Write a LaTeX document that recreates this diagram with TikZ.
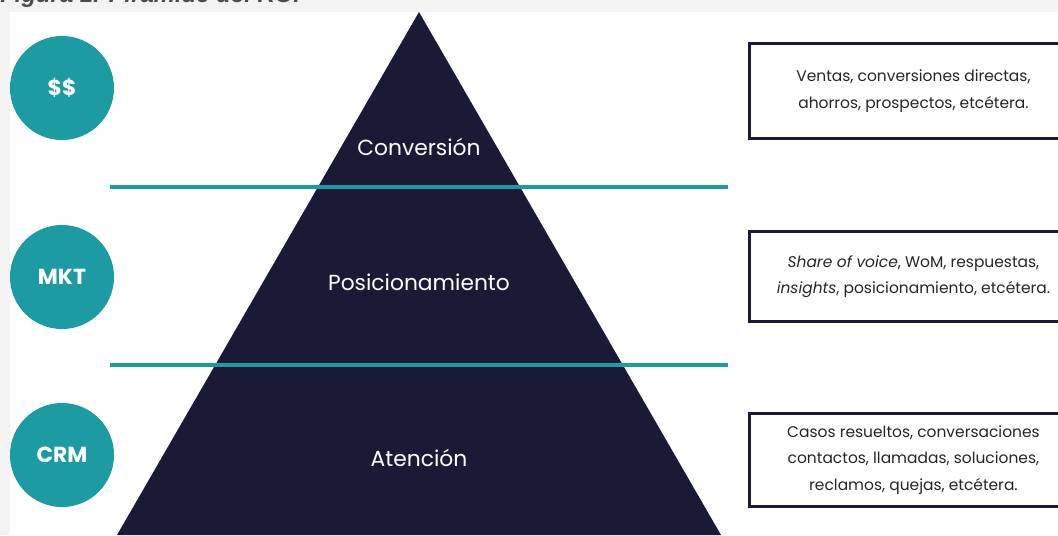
\documentclass[tikz,border=0pt]{standalone}
\usepackage{fontspec}
\setmainfont{Poppins}
\newfontfamily\capfont{Liberation Sans}
\definecolor{piramide}{HTML}{1B1A36}
\definecolor{turquesa}{HTML}{1C9BA2}
\definecolor{fondo}{HTML}{F3F3F3}
\tikzset{
circulo/.style={circle, fill=turquesa, minimum size=2.6cm, inner sep=0pt, text=white, font=\fontsize{15.5}{15.5}\selectfont\bfseries},
nivel/.style={text=white, font=\fontsize{15.5}{18}\selectfont},
caja/.style={draw=piramide, line width=2pt, align=center, anchor=north west, minimum width=8.2cm, text=black!85, font=\fontsize{11}{18.8}\selectfont},
linea/.style={turquesa, line width=2.4pt}
}

\begin{document}
\begin{tikzpicture}[x=0.025cm, y=-0.025cm]
\useasboundingbox (0,0) rectangle (1058,535);
\clip (0,0) rectangle (1058,535);
\fill[fondo] (0,0) rectangle (1058,535);
\fill[white] (10,12) rectangle (1058,535);
\node[anchor=base west, inner sep=0pt, text=black!70, font=\capfont\fontsize{17}{17}\selectfont\bfseries\itshape] (titulo) at (0,2) {Figura 1. Pirámide del ROI};
\fill[piramide] (419,12) -- (721,535) -- (117,535) -- cycle;
\draw[linea] (110,187) -- (728,187);
\draw[linea] (110,365) -- (728,365);
\node[nivel] (conv) at (419,147) {Conversión};
\node[nivel] (posic) at (419,282) {Posicionamiento};
\node[nivel] (aten) at (419,458) {Atención};
\node[circulo] (dinero) at (62,88) {\$\$};
\node[circulo] (mkt) at (62,277) {MKT};
\node[circulo] (crm) at (62,455) {CRM};
\node[caja, minimum height=2.375cm] (cajaconv) at (748,42) {Ventas, conversiones directas,\\ahorros, prospectos, etcétera.};
\node[caja, minimum height=2.25cm] (cajaposic) at (748,230) {\textit{Share of voice}, WoM, respuestas,\\\textit{insights}, posicionamiento, etcétera.};
\node[caja, minimum height=2.325cm] (cajaaten) at (748,412) {Casos resueltos, conversaciones\\contactos, llamadas, soluciones,\\reclamos, quejas, etcétera.};
\end{tikzpicture}
\end{document}
